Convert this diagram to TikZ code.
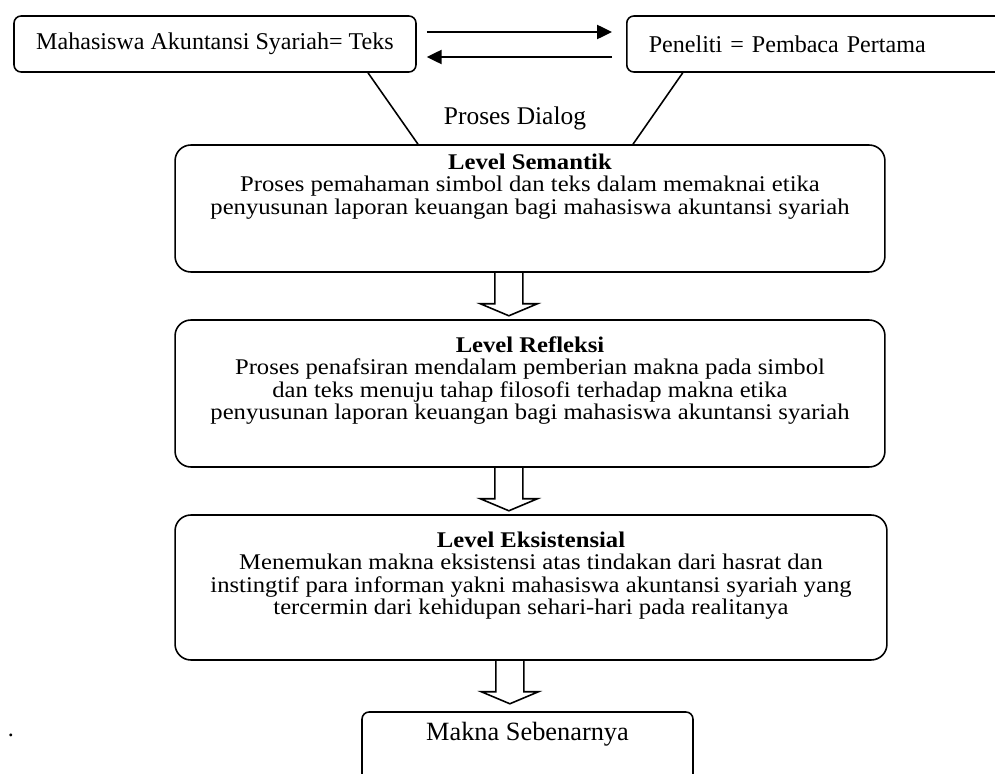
\documentclass[tikz,border=0pt]{standalone}
\usepackage{fontspec}
\setmainfont{Liberation Serif}
\newfontfamily\levelfont{Liberation Serif}[FakeStretch=1.1]
\usetikzlibrary{arrows.meta,positioning}

\begin{document}
\begin{tikzpicture}[
    x=0.02cm, y=-0.02cm,
    every node/.style={font=\fontsize{13.7}{12.6}\selectfont},
    topbox/.style={rectangle, draw, line width=0.9pt, rounded corners=4pt, minimum height=1.12cm},
    levelbox/.style={rectangle, draw, line width=0.9pt, rounded corners=9pt, minimum width=14.2cm},
    leveltext/.style={align=center, inner sep=0pt, font=\levelfont\fontsize{12.75}{12.8}\selectfont},
    dialogarrow/.style={line width=1.2pt, -{Triangle[length=8.5pt,width=8pt]}},
    blockarrow/.style={line width=0.9pt},
]

\useasboundingbox (0,0) rectangle (995,774);
\clip (0,0) rectangle (995,774);

% top row: text and reader
\node[topbox, minimum width=8.04cm] (mhs) at (215,44) {Mahasiswa Akuntansi Syariah= Teks};
\node[topbox, anchor=west, text width=6.72cm, inner xsep=0.44cm, align=left] (peneliti) at (626,44) {Peneliti = Pembaca Pertama};

\draw[dialogarrow] ([shift={(10,-12)}]mhs.east) -- ([shift={(-14,-12)}]peneliti.west);
\draw[dialogarrow] ([shift={(-14,13)}]peneliti.west) -- ([shift={(10,13)}]mhs.east);

\node[font=\fontsize{14.5}{16}\selectfont] (dialog) at (515,118) {Proses Dialog};

% the three levels
\node[levelbox, minimum height=2.54cm] (semantik) at (530,208.5) {};
\node[leveltext, below=0.18cm of semantik.north] (semantiktxt) {\textbf{Level Semantik}\\
    Proses pemahaman simbol dan teks dalam memaknai etika\\
    penyusunan laporan keuangan bagi mahasiswa akuntansi syariah};

\node[levelbox, minimum height=2.94cm] (refleksi) at (530,393.5) {};
\node[leveltext, below=0.34cm of refleksi.north] (refleksitxt) {\textbf{Level Refleksi}\\
    Proses penafsiran mendalam pemberian makna pada simbol\\
    dan teks menuju tahap filosofi terhadap makna etika\\
    penyusunan laporan keuangan bagi mahasiswa akuntansi syariah};

\node[levelbox, minimum width=14.24cm, minimum height=2.9cm] (eksistensial) at (531,587.5) {};
\node[leveltext, below=0.34cm of eksistensial.north] (eksistensialtxt) {\textbf{Level Eksistensial}\\
    Menemukan makna eksistensi atas tindakan dari hasrat dan\\
    instingtif para informan yakni mahasiswa akuntansi syariah yang\\
    tercermin dari kehidupan sehari-hari pada realitanya};

\node[topbox, anchor=base, minimum width=6.62cm, text height=0.36cm, text depth=1.2cm, inner ysep=0.2cm,
    font=\fontsize{15}{17}\selectfont] (makna) at (527.5,740) {Makna Sebenarnya};

\node[anchor=base] (dot) at (11,736) {.};

% dialog lines into the first level
\draw[line width=0.9pt] ([shift={(153,0)}]mhs.south) -- ([shift={(-112,0)}]semantik.north);
\draw[line width=0.9pt] ([shift={(-134,0)}]peneliti.south) -- ([shift={(103,0)}]semantik.north);

% block arrows down
\foreach \from in {semantik, refleksi, eksistensial}
    \draw[blockarrow] ([xshift=-20]\from.south) -- ++(0,31) -- ++(-14.5,0) -- ++(28.5,12)
        -- ++(28.5,-12) -- ++(-14.5,0) -- ++(0,-31);

\end{tikzpicture}
\end{document}
